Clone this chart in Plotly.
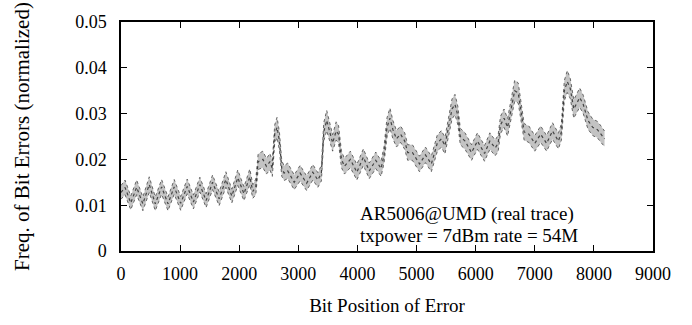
import plotly.graph_objects as go

# Key points of the trace: bit position and band centre value
bit_pos = [0, 68, 165, 265, 370, 478, 580, 687, 795, 900, 1010, 1120, 1225, 1334, 1440,
           1549, 1660, 1774, 1875, 1976, 2080, 2179, 2230, 2280, 2320, 2400, 2460, 2520,
           2560, 2600, 2640, 2680, 2720, 2760, 2820, 2930, 3030, 3140, 3245, 3330, 3390,
           3430, 3480, 3530, 3580, 3640, 3680, 3730, 3780, 3880, 3990, 4100, 4200, 4310,
           4400, 4450, 4500, 4550, 4600, 4660, 4730, 4800, 4850, 4930, 5050, 5150, 5250,
           5350, 5420, 5480, 5540, 5600, 5650, 5700, 5740, 5820, 5930, 6030, 6150, 6240,
           6330, 6380, 6420, 6480, 6540, 6600, 6660, 6720, 6770, 6820, 6900, 7000, 7100,
           7200, 7300, 7400, 7450, 7500, 7550, 7600, 7660, 7760, 7820, 7900, 7980, 8060,
           8120, 8180]
err_freq = [0.0128, 0.0139, 0.0105, 0.0139, 0.0103, 0.0145, 0.0103, 0.0140, 0.0103, 0.0140,
            0.0104, 0.0141, 0.0107, 0.0145, 0.0110, 0.0150, 0.0114, 0.0156, 0.0120, 0.0160,
            0.0125, 0.0162, 0.0130, 0.0140, 0.0195, 0.0200, 0.0185, 0.0195, 0.0180, 0.0255,
            0.0270, 0.0240, 0.0180, 0.0170, 0.0175, 0.0150, 0.0170, 0.0148, 0.0172, 0.0155,
            0.0170, 0.0260, 0.0285, 0.0260, 0.0236, 0.0262, 0.0255, 0.0200, 0.0185, 0.0200,
            0.0172, 0.0205, 0.0175, 0.0198, 0.0180, 0.0210, 0.0270, 0.0290, 0.0265, 0.0245,
            0.0255, 0.0240, 0.0215, 0.0215, 0.0190, 0.0210, 0.0190, 0.0235, 0.0245, 0.0230,
            0.0270, 0.0310, 0.0320, 0.0295, 0.0250, 0.0240, 0.0215, 0.0240, 0.0213, 0.0240,
            0.0225, 0.0235, 0.0275, 0.0290, 0.0270, 0.0310, 0.0350, 0.0345, 0.0300, 0.0260,
            0.0255, 0.0235, 0.0255, 0.0235, 0.0262, 0.0240, 0.0260, 0.0350, 0.0370, 0.0355,
            0.0310, 0.0335, 0.0320, 0.0285, 0.0270, 0.0265, 0.0255, 0.0245]
# half-width of the scattered band of points around the centre
band_half = [0.0015, 0.0016, 0.0015, 0.0016, 0.0015, 0.0017, 0.0015, 0.0016, 0.0015, 0.0016,
             0.0015, 0.0016, 0.0015, 0.0016, 0.0015, 0.0016, 0.0015, 0.0017, 0.0015, 0.0017,
             0.0015, 0.0017, 0.0015, 0.0017, 0.0017, 0.0018, 0.0017, 0.0018, 0.0017, 0.0020,
             0.0022, 0.0020, 0.0017, 0.0016, 0.0017, 0.0016, 0.0017, 0.0016, 0.0017, 0.0016,
             0.0017, 0.0020, 0.0022, 0.0020, 0.0018, 0.0020, 0.0019, 0.0018, 0.0017, 0.0018,
             0.0017, 0.0018, 0.0017, 0.0018, 0.0017, 0.0018, 0.0021, 0.0022, 0.0020, 0.0018,
             0.0018, 0.0018, 0.0017, 0.0017, 0.0017, 0.0017, 0.0017, 0.0018, 0.0018, 0.0018,
             0.0020, 0.0022, 0.0022, 0.0020, 0.0018, 0.0018, 0.0017, 0.0018, 0.0017, 0.0018,
             0.0017, 0.0018, 0.0019, 0.0020, 0.0019, 0.0021, 0.0023, 0.0022, 0.0020, 0.0018,
             0.0018, 0.0017, 0.0018, 0.0017, 0.0018, 0.0017, 0.0018, 0.0022, 0.0024, 0.0022,
             0.0020, 0.0021, 0.0020, 0.0019, 0.0018, 0.0018, 0.0018, 0.0017]

x_ticks = [0, 1000, 2000, 3000, 4000, 5000, 6000, 7000, 8000, 9000]
y_ticks = [0, 0.01, 0.02, 0.03, 0.04, 0.05]
y_labels = ["0", "0.01", "0.02", "0.03", "0.04", "0.05"]

upper = [c + h for c, h in zip(err_freq, band_half)]
lower = [c - h for c, h in zip(err_freq, band_half)]

FONT = "Liberation Serif, Times New Roman, serif"

fig = go.Figure()
fig.add_trace(go.Scatter(x=bit_pos, y=upper, mode="lines",
                         line=dict(width=1, color="rgba(70,70,70,0.8)", dash="dot"),
                         showlegend=False, hoverinfo="skip"))
fig.add_trace(go.Scatter(x=bit_pos, y=lower, mode="lines",
                         line=dict(width=1, color="rgba(70,70,70,0.8)", dash="dot"),
                         fill="tonexty", fillcolor="rgba(135,135,135,0.5)", showlegend=False, hoverinfo="skip"))
fig.add_trace(go.Scatter(x=bit_pos, y=err_freq, mode="lines",
                         line=dict(width=1.2, color="rgba(35,35,35,0.8)", dash="dot"),
                         showlegend=False))

fig.add_annotation(text="AR5006@UMD (real trace)", xref="paper", yref="paper", x=0.445, y=0.162,
                   xanchor="left", yanchor="middle", showarrow=False,
                   font=dict(family=FONT, size=19, color="black"))
fig.add_annotation(text="txpower = 7dBm rate = 54M", xref="paper", yref="paper", x=0.445, y=0.068,
                   xanchor="left", yanchor="middle", showarrow=False,
                   font=dict(family=FONT, size=19, color="black"))

axis_common = dict(showline=True, linecolor="black", linewidth=1.5, mirror="ticks", ticks="inside",
                   ticklen=6, tickwidth=1, tickcolor="black", showgrid=False, zeroline=False,
                   tickfont=dict(family=FONT, size=18, color="black"))
fig.update_xaxes(range=[0, 9000], tickvals=x_ticks, ticktext=[str(v) for v in x_ticks],
                 title=dict(text="Bit Position of Error", font=dict(family=FONT, size=19, color="black"),
                            standoff=15),
                 ticklabelstandoff=6, **axis_common)
fig.update_yaxes(range=[0, 0.05], tickvals=y_ticks, ticktext=y_labels,
                 title=dict(text="Freq. of Bit Errors (normalized)",
                            font=dict(family=FONT, size=21, color="black"), standoff=40),
                 ticklabelstandoff=9, **axis_common)
fig.update_layout(width=692, height=325, margin=dict(l=121, r=39, t=21, b=66),
                  paper_bgcolor="white", plot_bgcolor="white", font=dict(family=FONT))
fig.write_html("out.html")
